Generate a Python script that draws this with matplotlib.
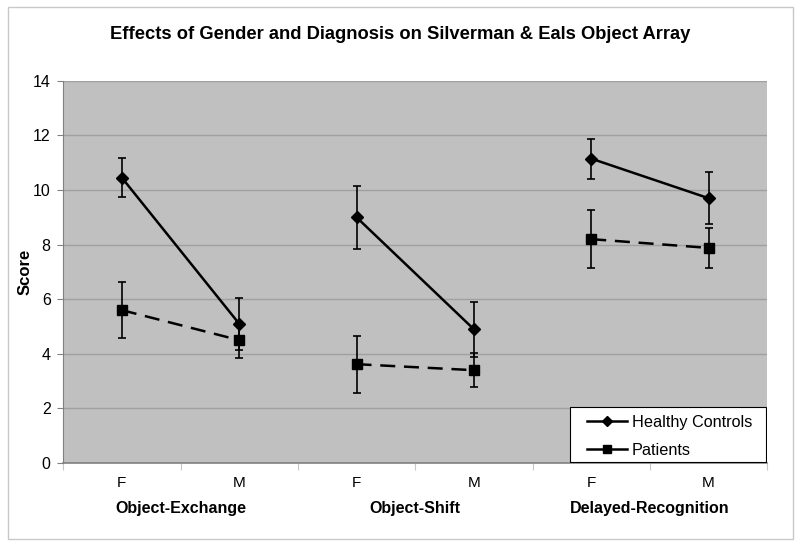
import numpy as np
import matplotlib.pyplot as plt
from matplotlib.patches import Rectangle
from matplotlib.lines import Line2D

# data
groups = ['Object-Exchange', 'Object-Shift', 'Delayed-Recognition']
genders = ['F', 'M']
hc_mean = [10.45, 5.1, 9.0, 4.9, 11.15, 9.7]
hc_err = [0.72, 0.95, 1.15, 1.0, 0.73, 0.95]
pt_mean = [5.6, 4.5, 3.62, 3.4, 8.2, 7.88]
pt_err = [1.02, 0.65, 1.05, 0.62, 1.06, 0.73]

plt.rcParams['font.family'] = ['Liberation Sans', 'DejaVu Sans']

fig = plt.figure(figsize=(8, 5.46), dpi=100)
ax = fig.add_axes([0.079, 0.152, 0.880, 0.700])
ax.set_facecolor('#c0c0c0')

# light border around the whole chart
fig.patches.append(Rectangle((0.01, 0.013), 0.981, 0.975, transform=fig.transFigure,
                             fill=False, edgecolor='#c8c8c8', linewidth=1))

x = np.arange(len(hc_mean)) + 0.5
for g in range(len(groups)):
    sl = slice(2 * g, 2 * g + 2)
    ax.errorbar(x[sl], hc_mean[sl], yerr=hc_err[sl], color='black', linewidth=1.8,
                marker='D', markersize=6, capsize=3, elinewidth=1.2, capthick=1.2,
                zorder=3)
    ax.errorbar(x[sl], pt_mean[sl], yerr=pt_err[sl], color='black', linewidth=1.8,
                linestyle=(0, (6, 3.5)), marker='s', markersize=7.5, capsize=3,
                elinewidth=1.2, capthick=1.2, zorder=3)

ax.set_xlim(0, 6)
ax.set_ylim(0, 14)
ax.set_yticks(np.arange(0, 15, 2))
ax.yaxis.grid(True, color='#a0a0a0', linewidth=1)
ax.set_axisbelow(True)

ax.set_xticks(np.arange(0, 7))
ax.set_xticklabels([])
ax.tick_params(axis='x', length=5, color='#c8c8c8')
ax.tick_params(axis='y', length=4, color='#808080', labelsize=11.5, pad=5)
for lbl, xi in zip(genders * len(groups), x):
    ax.text(xi, -0.48, lbl, ha='center', va='top', fontsize=11)
for i, grp in enumerate(groups):
    ax.text(2 * i + 1, -1.4, grp, ha='center', va='top', fontsize=11.5,
            fontweight='bold')

for s in ['top', 'right']:
    ax.spines[s].set_visible(False)
ax.spines['left'].set_color('#808080')
ax.spines['bottom'].set_color('#808080')
ax.spines['bottom'].set_linewidth(1.2)

ax.set_ylabel('Score', fontsize=12, fontweight='bold')
ax.yaxis.set_label_coords(-0.044, 0.5)
fig.text(0.5, 0.937, 'Effects of Gender and Diagnosis on Silverman & Eals Object Array',
         ha='center', va='center', fontsize=13.2, fontweight='bold')

# legend box (wider horizontal padding than matplotlib's frame allows)
ax.add_patch(Rectangle((0.720, 0.003), 0.279, 0.144, transform=ax.transAxes,
                       facecolor='white', edgecolor='black', linewidth=0.8, zorder=4))
handles = [Line2D([], [], color='black', linewidth=1.8, marker='D', markersize=5),
           Line2D([], [], color='black', linewidth=1.8, marker='s', markersize=6)]
leg = ax.legend(handles, ['Healthy Controls', 'Patients'], loc='center',
                bbox_to_anchor=(0.861, 0.069), fontsize=11.7, frameon=False,
                handlelength=2.5, handletextpad=0.25, labelspacing=0.8,
                borderpad=0, borderaxespad=0)
leg.set_zorder(5)

fig.savefig('out.png', dpi=100)
